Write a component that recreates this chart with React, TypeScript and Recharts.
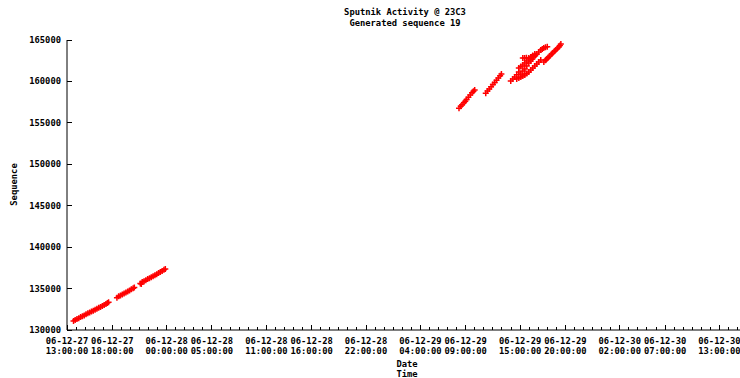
import React from 'react';
import { ScatterChart, Scatter, XAxis, YAxis } from 'recharts';

// hours since 06-12-27 13:00:00, sequence number
const burstDay1a: [number, number][] = [
  [0.72, 131100], [0.9, 131220], [1.1, 131340], [1.3, 131420], [1.5, 131560],
  [1.7, 131660], [1.9, 131760], [2.1, 131900], [2.3, 132010], [2.5, 132110],
  [2.7, 132240], [2.9, 132330], [3.1, 132450], [3.3, 132570], [3.5, 132680],
  [3.7, 132790], [3.9, 132900], [4.1, 133030], [4.3, 133150], [4.45, 133250], [4.59, 133340],
];
const burstDay1b: [number, number][] = [
  [5.51, 133900], [5.7, 134060], [5.9, 134170], [6.1, 134290], [6.3, 134400],
  [6.5, 134540], [6.7, 134660], [6.9, 134780], [7.1, 134930], [7.3, 135040], [7.43, 135120],
];
const burstDay1c: [number, number][] = [
  [8.09, 135620], [8.2, 135560], [8.3, 135790], [8.5, 135870], [8.7, 136000],
  [8.9, 136150], [9.1, 136240], [9.3, 136380], [9.5, 136500], [9.7, 136600],
  [9.9, 136740], [10.1, 136880], [10.3, 136990], [10.5, 137120], [10.7, 137260], [10.85, 137360],
];
const burstDay3a: [number, number][] = [
  [43.26, 156760], [43.45, 157000], [43.6, 157200], [43.8, 157430], [43.95, 157620],
  [44.1, 157830], [44.3, 158080], [44.5, 158350], [44.7, 158620], [44.85, 158800], [44.99, 158970],
];
const burstDay3b: [number, number][] = [
  [46.21, 158570], [46.4, 158830], [46.6, 159080], [46.8, 159350], [47.0, 159620],
  [47.2, 159870], [47.4, 160150], [47.6, 160420], [47.8, 160680], [47.94, 160900],
];
const burstDay3c: [number, number][] = [
  [48.97, 160050], [49.2, 160300], [49.41, 160540], [49.63, 160820], [49.86, 161140],
  [50.08, 160900], [50.3, 161260], [50.52, 161500], [50.74, 161860], [50.96, 162230],
  [51.18, 162470], [51.35, 162700], [51.51, 162950], [51.68, 163130], [51.84, 163310],
  [52.06, 163550], [52.28, 163800], [52.45, 163920], [52.61, 164040], [52.8, 164140], [53.0, 164200],
  [49.63, 160300], [49.86, 160420], [50.08, 160540], [50.3, 160660], [50.52, 160780],
  [50.74, 160960], [50.96, 161140], [51.18, 161380], [51.4, 161620], [51.62, 161860],
  [51.84, 162110], [52.06, 162350], [52.28, 162590],
  [49.86, 161620], [50.08, 161800], [50.3, 161990], [50.52, 162230], [50.74, 162470],
  [50.96, 162710], [51.18, 162950], [51.4, 163130], [51.62, 163310],
  [50.3, 162830], [50.5, 162830], [50.7, 162860], [50.96, 162830], [51.29, 162950],
];
const burstDay3d: [number, number][] = [
  [52.62, 162350], [52.8, 162560], [52.95, 162710], [53.1, 162900], [53.28, 163070],
  [53.45, 163270], [53.61, 163430], [53.78, 163630], [53.94, 163800], [54.1, 163980],
  [54.28, 164160], [54.4, 164350], [54.5, 164520],
];

const majorHours = [0, 5, 11, 16, 22, 27, 33, 39, 44, 50, 55, 61, 66, 72];
const dateLabels = [
  '06-12-27', '06-12-27', '06-12-28', '06-12-28', '06-12-28', '06-12-28', '06-12-28',
  '06-12-29', '06-12-29', '06-12-29', '06-12-29', '06-12-30', '06-12-30', '06-12-30',
];
const timeLabels = [
  '13:00:00', '18:00:00', '00:00:00', '05:00:00', '11:00:00', '16:00:00', '22:00:00',
  '04:00:00', '09:00:00', '15:00:00', '20:00:00', '02:00:00', '07:00:00', '13:00:00',
];
const seqTicks = [130000, 135000, 140000, 145000, 150000, 155000, 160000, 165000];

const hourTicks = Array.from({ length: 75 }, (_, i) => i);

const data = [
  ...burstDay1a, ...burstDay1b, ...burstDay1c,
  ...burstDay3a, ...burstDay3b, ...burstDay3c, ...burstDay3d,
].map(([t, seq]) => ({ t, seq }));

const FONT = '"DejaVu Sans Mono", "Liberation Mono", monospace';
const textStyle = { fontFamily: FONT, fontSize: 8.8, fontWeight: 700, fill: '#000' };

const BottomTick = (props: any) => {
  const { x, y, payload } = props;
  const i = majorHours.indexOf(payload.value);
  if (i < 0) {
    return <line x1={x} x2={x} y1={y} y2={y - 3} stroke="#000" shapeRendering="crispEdges" />;
  }
  return (
    <g>
      <line x1={x} x2={x} y1={y} y2={y - 5} stroke="#000" shapeRendering="crispEdges" />
      <text x={x} y={y + 13.5} textAnchor="middle" style={textStyle}>{dateLabels[i]}</text>
      <text x={x} y={y + 24} textAnchor="middle" style={textStyle}>{timeLabels[i]}</text>
    </g>
  );
};

const TopTick = (props: any) => {
  const { x, y, payload } = props;
  const len = majorHours.includes(payload.value) ? 5 : 3;
  return <line x1={x} x2={x} y1={y} y2={y + len} stroke="#000" shapeRendering="crispEdges" />;
};

const LeftTick = (props: any) => {
  const { x, y, payload } = props;
  return (
    <g>
      <line x1={x} x2={x + 5} y1={y} y2={y} stroke="#000" shapeRendering="crispEdges" />
      <text x={x - 6} y={y + 3} textAnchor="end" style={textStyle}>{payload.value}</text>
    </g>
  );
};

const Plus = (props: any) => {
  const { cx, cy } = props;
  return (
    <path
      d={`M${cx - 3},${cy}h6M${cx},${cy - 3}v6`}
      stroke="#ff0000"
      strokeWidth={1.5}
      fill="none"
    />
  );
};

const htmlText: React.CSSProperties = {
  position: 'absolute',
  fontFamily: FONT,
  fontSize: 8.8,
  fontWeight: 700,
  color: '#000',
  textAlign: 'center',
  lineHeight: '11px',
  whiteSpace: 'nowrap',
};

export default function App() {
  return (
    <div style={{ position: 'absolute', left: 0, top: 0, width: 740, height: 378, overflow: 'hidden', background: '#fff' }}>
      <ScatterChart width={761} height={378} margin={{ top: 40, right: 18, bottom: 0, left: 0 }}>
        <XAxis
          dataKey="t"
          type="number"
          domain={[0, 74.6]}
          allowDataOverflow
          ticks={hourTicks}
          interval={0}
          height={48}
          tickSize={0}
          tickMargin={0}
          tickLine={false}
          axisLine={{ stroke: '#000' }}
          tick={<BottomTick />}
        />
        <XAxis
          xAxisId="top"
          orientation="top"
          dataKey="t"
          type="number"
          domain={[0, 74.6]}
          allowDataOverflow
          ticks={hourTicks}
          interval={0}
          height={0}
          tickSize={0}
          tickMargin={0}
          tickLine={false}
          axisLine={{ stroke: '#a0a0a0' }}
          tick={<TopTick />}
        />
        <YAxis
          dataKey="seq"
          type="number"
          domain={[130000, 165000]}
          allowDataOverflow
          ticks={seqTicks}
          interval={0}
          width={67}
          tickSize={0}
          tickMargin={0}
          tickLine={false}
          axisLine={{ stroke: '#000' }}
          tick={<LeftTick />}
        />
        <Scatter data={data} shape={<Plus />} isAnimationActive={false} />
      </ScatterChart>
      <div style={{ ...htmlText, left: 305, top: 7, width: 200 }}>
        Sputnik Activity @ 23C3<br />Generated sequence 19
      </div>
      <div style={{ ...htmlText, left: 357, top: 359, width: 100, lineHeight: '10px' }}>
        Date<br />Time
      </div>
      <div style={{ ...htmlText, left: -16, top: 179, width: 60, transform: 'rotate(-90deg)' }}>
        Sequence
      </div>
    </div>
  );
}
